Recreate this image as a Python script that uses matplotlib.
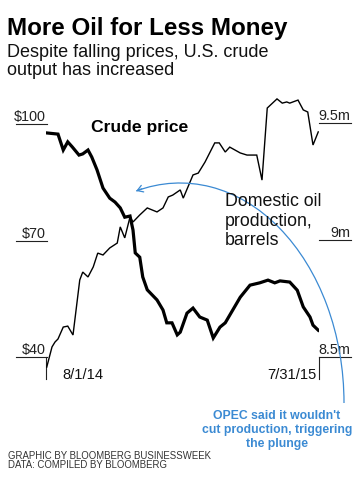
import matplotlib
matplotlib.use("Agg")
import numpy as np
import matplotlib.pyplot as plt
from matplotlib.patches import Arc, FancyArrowPatch
from matplotlib.transforms import blended_transform_factory, IdentityTransform

plt.rcParams['font.family'] = ['Liberation Sans', 'DejaVu Sans']

# ---- data (days since 8/1/14) ----
price_days = [1, 16, 23, 29, 35, 44, 49, 56, 61, 68, 76, 85, 92, 99, 105, 112, 116, 119,
              125, 129, 135, 148, 156, 161, 168, 175, 179, 188, 196, 205, 215, 223, 232,
              239, 249, 259, 272, 285, 296, 305, 312, 325, 335, 343, 352, 356, 363]
price = [97.7, 97.4, 93.3, 95.4, 94.1, 92.0, 92.3, 93.3, 91.5, 88.2, 83.5, 80.9, 79.9,
         78.4, 76.0, 76.3, 72.7, 66.8, 65.7, 60.6, 57.3, 54.7, 52.1, 48.8, 48.8, 45.7,
         46.4, 51.3, 52.6, 50.3, 49.5, 44.9, 47.7, 48.8, 52.1, 55.4, 58.5, 59.1, 59.8,
         59.1, 59.6, 59.3, 57.2, 52.9, 50.3, 48.2, 46.9]

prod_days = [1, 8, 12, 16, 23, 29, 36, 45, 49, 56, 63, 69, 76, 85, 95, 99, 105, 112, 116,
             125, 135, 148, 156, 163, 169, 179, 183, 196, 203, 212, 225, 231, 239, 245,
             259, 268, 281, 288, 295, 308, 315, 321, 325, 336, 343, 349, 356, 363]
production = [8.457, 8.543, 8.564, 8.577, 8.628, 8.632, 8.594, 8.829, 8.863, 8.842, 8.885,
              8.944, 8.936, 8.966, 8.987, 9.056, 9.009, 9.098, 9.077, 9.107, 9.137, 9.120,
              9.137, 9.184, 9.192, 9.214, 9.179, 9.278, 9.286, 9.333, 9.415, 9.415, 9.376,
              9.397, 9.372, 9.363, 9.363, 9.256, 9.564, 9.603, 9.585, 9.590, 9.585, 9.598,
              9.556, 9.547, 9.406, 9.462]

price_ticks = [40, 70, 100]
price_labels = ['$40', '$70', '$100']
prod_ticks = [8.5, 9.0, 9.5]
prod_labels = ['8.5m', '9m', '9.5m']
start_label = '8/1/14'
end_label = '7/31/15'
n_days = 364

W, H = 360, 483
fig = plt.figure(figsize=(W / 100, H / 100), dpi=100)
fig.patch.set_facecolor('white')

def fx(px):
    return px / W

def fy(py):
    return 1 - py / H

# axes spanning pixel x 46..319, y 95..380
ax = fig.add_axes([fx(46), fy(380), (319 - 46) / W, (380 - 95) / H])
ax2 = ax.twinx()
for a in (ax, ax2):
    a.set_axis_off()
    a.patch.set_alpha(0)
ax.set_xlim(0, n_days)
ax.set_ylim(34.08, 107.47)
ax2.set_ylim(8.4017, 9.6197)

ax2.plot(prod_days, production, color='black', lw=1.0, solid_joinstyle='miter')
ax.plot(price_days, price, color='black', lw=2.3, solid_joinstyle='miter')

line_kw = dict(color='#222222', lw=0.8, clip_on=False)

# left (price) labels
tl = blended_transform_factory(fig.transFigure, ax.transData)
for v, lab in zip(price_ticks, price_labels):
    ax.plot([fx(16), fx(46.5)], [v, v], transform=tl, **line_kw)
    ax.text(fx(46), v, lab, transform=tl, ha='right', va='bottom', fontsize=10.4,
            color='#222222')
# right (production) labels
tr = blended_transform_factory(fig.transFigure, ax2.transData)
for v, lab in zip(prod_ticks, prod_labels):
    ax2.plot([fx(319), fx(351)], [v, v], transform=tr, **line_kw)
    ax2.text(fx(350.5), v, lab, transform=tr, ha='right', va='bottom', fontsize=10.4,
             color='#222222')

# start / end markers
tb = blended_transform_factory(ax.transData, ax.transAxes)
y40 = (price_ticks[0] - 34.08) / (107.47 - 34.08)
ax.plot([0, 0], [y40, 0.003], transform=tb, **line_kw)
ax.plot([n_days, n_days], [y40, 0.003], transform=tb, **line_kw)
fig.text(fx(62), fy(379), start_label, ha='left', va='baseline', fontsize=10.6,
         color='#111111')
fig.text(fx(316), fy(379), end_label, ha='right', va='baseline', fontsize=10.6,
         color='#111111')

# titles
fig.text(fx(7), fy(35), 'More Oil for Less Money', fontsize=17.4, fontweight='bold',
         ha='left', va='baseline', color='black')
fig.text(fx(7), fy(57), 'Despite falling prices, U.S. crude', fontsize=13,
         ha='left', va='baseline', color='#111111')
fig.text(fx(7), fy(75), 'output has increased', fontsize=13,
         ha='left', va='baseline', color='#111111')

# series labels
fig.text(fx(91), fy(132), 'Crude price', fontsize=12.6, fontweight='bold',
         ha='left', va='baseline', color='black')
for i, s in enumerate(['Domestic oil', 'production,', 'barrels']):
    fig.text(fx(225), fy(206 + 19.5 * i), s, fontsize=12.8, ha='left', va='baseline',
             color='#111111')

# annotation: elliptical arc from OPEC note to the Nov-2014 point, with arrowhead
blue = '#3b8ad3'
cx, cy, a_r, b_r = 180, H - 403, 164, 220
t_end = np.radians(105.5)  # parametric angle of the arrow tip
geo_end = np.degrees(np.arctan2(b_r * np.sin(t_end), a_r * np.cos(t_end)))
arc = Arc((cx, cy), 2 * a_r, 2 * b_r, theta1=0, theta2=geo_end,
          transform=IdentityTransform(), color=blue, lw=0.9)
fig.add_artist(arc)
tip = (cx + a_r * np.cos(t_end), cy + b_r * np.sin(t_end))
tang = np.array([-a_r * np.sin(t_end), b_r * np.cos(t_end)])
tang = tang / np.hypot(*tang)
back = (tip[0] - 6 * tang[0], tip[1] - 6 * tang[1])
fig.add_artist(FancyArrowPatch(
    back, tip, transform=IdentityTransform(),
    arrowstyle='->,head_length=4,head_width=2.5', color=blue, lw=0.9,
    shrinkA=0, shrinkB=0))

for i, s in enumerate(["OPEC said it wouldn't", 'cut production, triggering',
                       'the plunge']):
    fig.text(fx(277), fy(419 + 14 * i), s, fontsize=8.8, fontweight='bold',
             ha='center', va='baseline', color=blue)

# footer
fig.text(fx(8), fy(459), 'GRAPHIC BY BLOOMBERG BUSINESSWEEK', fontsize=6.9,
         ha='left', va='baseline', color='#333333')
fig.text(fx(8), fy(468), 'DATA: COMPILED BY BLOOMBERG', fontsize=6.9,
         ha='left', va='baseline', color='#333333')

fig.savefig('out.png', dpi=100, facecolor='white')
